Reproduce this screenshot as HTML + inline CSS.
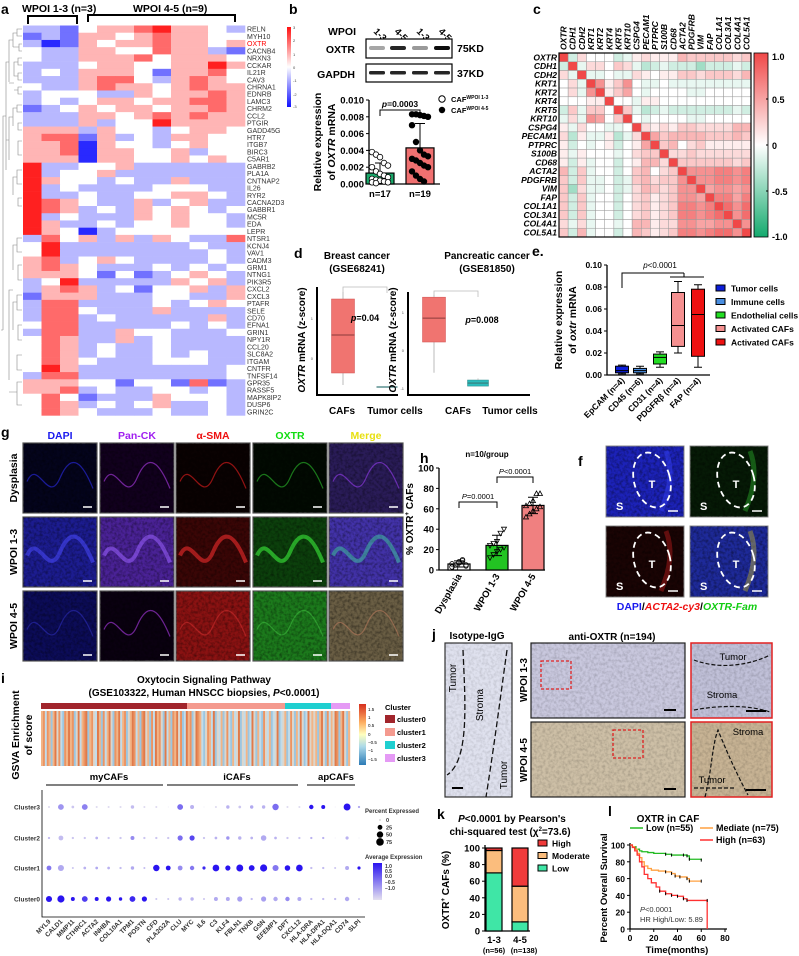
<!DOCTYPE html>
<html><head><meta charset="utf-8">
<style>
html,body{margin:0;padding:0;background:#fff;}
svg{display:block;font-family:"Liberation Sans",Arial,sans-serif;}
.b{font-weight:bold;}
.pl{font-weight:bold;font-size:14px;}
</style></head>
<body>
<svg id="fig" width="799" height="956" viewBox="0 0 799 956" xmlns="http://www.w3.org/2000/svg">
<defs>
<linearGradient id="gradA" x1="0" y1="0" x2="0" y2="1"><stop offset="0" stop-color="#ff1010"/><stop offset="0.5" stop-color="#ffffff"/><stop offset="1" stop-color="#1010ff"/></linearGradient>
<linearGradient id="gradC" x1="0" y1="0" x2="0" y2="1"><stop offset="0" stop-color="#f04848"/><stop offset="0.5" stop-color="#ffffff"/><stop offset="1" stop-color="#14aa6e"/></linearGradient>
<linearGradient id="gradI" x1="0" y1="0" x2="0" y2="1"><stop offset="0" stop-color="#d7301f"/><stop offset="0.3" stop-color="#fdae61"/><stop offset="0.5" stop-color="#ffffbf"/><stop offset="0.7" stop-color="#abd9e9"/><stop offset="1" stop-color="#2c7bb6"/></linearGradient>
<linearGradient id="gradAE" x1="0" y1="0" x2="0" y2="1"><stop offset="0" stop-color="#2a14f0"/><stop offset="1" stop-color="#e4e0f0"/></linearGradient>
<filter id="noise" x="0" y="0" width="100%" height="100%">
<feTurbulence type="fractalNoise" baseFrequency="0.35" numOctaves="2" seed="3"/>
<feColorMatrix type="matrix" values="0 0 0 0 0  0 0 0 0 0  0 0 0 0 0  0 0 0 1.6 -0.6"/>
</filter>
<filter id="noiseL" x="0" y="0" width="100%" height="100%">
<feTurbulence type="fractalNoise" baseFrequency="0.25" numOctaves="2" seed="7"/>
<feColorMatrix type="matrix" values="0 0 0 0 1  0 0 0 0 1  0 0 0 0 1  0 0 0 1.8 -0.9"/>
</filter>
</defs>

<!-- Panel a -->
<text class="pl" x="1" y="14">a</text>
<text class="b" x="22" y="12" font-size="10.5">WPOI 1-3 (n=3)</text>
<text class="b" x="133" y="12" font-size="10.5">WPOI 4-5 (n=9)</text>
<path d="M28,24 V16 H77 V24" fill="none" stroke="#000" stroke-width="2"/>
<path d="M88,22 V15 H235 V22" fill="none" stroke="#000" stroke-width="2"/>
<g id="heatA"></g>
<g id="dendro" stroke="#888" stroke-width="0.6" fill="none">
<path d="M22,29 H17 V36 H22 M17,33 H13 V47 M22,44 H19 V51 H22 M19,47 H13 M13,40 H9 V82 M22,58 H18 V65 H22 M18,62 H14 V76 H18 M22,73 H18 V80 H22 M22,87 H18 V94 H22 M18,90 H14 M14,83 H9 M9,62 H6 V170 M22,105 H17 V112 H22 M17,108 H13 V126 M22,123 H18 V130 H22 M13,117 H9 V160 M22,141 H18 V155 H22 M22,170 H17 V184 H22 M17,177 H13 V195 M22,198 H18 V206 H22 M9,140 H6 M6,116 H3 V330 M22,238 H17 V252 H22 M17,245 H13 V270 M22,265 H18 V280 H22 M22,295 H17 V310 H22 M17,302 H13 V330 M22,325 H18 V340 H22 M13,290 H9 V380 M22,355 H17 V370 H22 M22,382 H17 V405 H22 M17,392 H9 M3,330 H1 V330"/>
</g>
<g id="geneA"></g>
<rect x="287" y="27" width="4" height="80" fill="url(#gradA)"/>
<g font-size="4" fill="#444">
<text x="293" y="29">3</text><text x="293" y="42">2</text><text x="293" y="56">1</text><text x="293" y="69">0</text><text x="293" y="82">-1</text><text x="293" y="96">-2</text><text x="293" y="108">-3</text></g>

<!-- Panel b -->
<text class="pl" x="289" y="14">b</text>
<text class="b" x="328" y="35" font-size="10.5">WPOI</text>
<g class="b" font-size="9.5">
<text transform="translate(373,32) rotate(45)" text-anchor="start">1-3</text>
<text transform="translate(394,32) rotate(45)">4-5</text>
<text transform="translate(416,32) rotate(45)">1-3</text>
<text transform="translate(438,32) rotate(45)">4-5</text></g>
<text class="b" x="355" y="53" font-size="10.5" text-anchor="end">OXTR</text>
<text class="b" x="355" y="78" font-size="10.5" text-anchor="end">GAPDH</text>
<rect x="366" y="39" width="86" height="19" fill="#fff" stroke="#000" stroke-width="1.2"/>
<rect x="366" y="64" width="86" height="18" fill="#fff" stroke="#000" stroke-width="1.2"/>
<g id="bands"></g>
<text class="b" x="457" y="52" font-size="10.5">75KD</text>
<text class="b" x="457" y="77" font-size="10.5">37KD</text>
<g id="chartB"></g>
<text class="b" transform="translate(321,142) rotate(-90)" font-size="10.5" text-anchor="middle">Relative expression</text>
<text class="b" transform="translate(335,142) rotate(-90)" font-size="10.5" text-anchor="middle">of <tspan font-style="italic">OXTR</tspan> mRNA</text>
<circle cx="442" cy="99" r="3.2" fill="#fff" stroke="#000"/>
<text x="451" y="102" font-size="7.5" class="b">CAF<tspan font-size="5" dy="-3">WPOI 1-3</tspan></text>
<circle cx="442" cy="110" r="3.2" fill="#000"/>
<text x="451" y="113" font-size="7.5" class="b">CAF<tspan font-size="5" dy="-3">WPOI 4-5</tspan></text>

<!-- Panel c -->
<text class="pl" x="533" y="14">c</text>
<g id="heatC"></g>
<rect x="754" y="53" width="14" height="184" fill="url(#gradC)" stroke="#000" stroke-width="0.8"/>
<g class="b" font-size="9">
<text x="772" y="60">1.0</text><text x="772" y="103">0.5</text><text x="772" y="149">0</text><text x="772" y="195">-0.5</text><text x="772" y="240">-1.0</text>
<path d="M768,99 h-2 M768,145 h-2 M768,191 h-2" stroke="#000"/></g>

<!-- Panel d -->
<text class="pl" x="294" y="258">d</text>
<text class="b" x="357" y="259" font-size="10" text-anchor="middle">Breast cancer</text>
<text class="b" x="357" y="272" font-size="10" text-anchor="middle">(GSE68241)</text>
<text class="b" x="487" y="259" font-size="10" text-anchor="middle">Pancreatic cancer</text>
<text class="b" x="487" y="272" font-size="10" text-anchor="middle">(GSE81850)</text>
<g id="chartD"></g>
<text class="b" transform="translate(305,340) rotate(-90)" font-size="10" text-anchor="middle"><tspan font-style="italic">OXTR</tspan> mRNA (z-score)</text>
<text class="b" transform="translate(396,340) rotate(-90)" font-size="10" text-anchor="middle"><tspan font-style="italic">OXTR</tspan> mRNA (z-score)</text>
<text x="365" y="321" font-size="9" class="b" text-anchor="middle"><tspan font-style="italic">p</tspan>=0.04</text>
<text x="482" y="323" font-size="9" class="b" text-anchor="middle"><tspan font-style="italic">p</tspan>=0.008</text>
<g class="b" font-size="10">
<text x="342" y="414" text-anchor="middle">CAFs</text><text x="395" y="414" text-anchor="middle">Tumor cells</text>
<text x="458" y="414" text-anchor="middle">CAFs</text><text x="510" y="414" text-anchor="middle">Tumor cells</text></g>

<!-- Panel e -->
<text class="pl" x="532" y="256">e.</text>
<g id="chartE"></g>
<text class="b" transform="translate(562,320) rotate(-90)" font-size="10.5" text-anchor="middle">Relative expression</text>
<text class="b" transform="translate(576,320) rotate(-90)" font-size="10.5" text-anchor="middle">of <tspan font-style="italic">oxtr</tspan> mRNA</text>
<text x="660" y="268" font-size="8" text-anchor="middle"><tspan font-style="italic">p</tspan>&lt;0.0001</text>
<path d="M622,288 V273 H684 M670,277 H704 M684,273 V277" fill="none" stroke="#000" stroke-width="1"/>
<g id="legE"></g>

<!-- Panel g -->
<text class="pl" x="1" y="437">g</text>
<g class="b" font-size="10.5" text-anchor="middle">
<text x="60" y="439" fill="#1a1aee">DAPI</text><text x="137" y="439" fill="#a020f0">Pan-CK</text>
<text x="213" y="439" fill="#ee1111">α-SMA</text><text x="290" y="439" fill="#11dd11">OXTR</text><text x="366" y="439" fill="#e8e010">Merge</text></g>
<g class="b" font-size="10.5" text-anchor="middle">
<text transform="translate(17,478) rotate(-90)">Dysplasia</text>
<text transform="translate(17,552) rotate(-90)">WPOI 1-3</text>
<text transform="translate(17,626) rotate(-90)">WPOI 4-5</text></g>
<g id="imgG"></g>

<!-- Panel h -->
<text class="pl" x="420" y="463">h</text>
<text x="487" y="457" font-size="8" class="b" text-anchor="middle">n=10/group</text>
<g id="chartH"></g>
<text class="b" transform="translate(413,519) rotate(-90)" font-size="10" text-anchor="middle">% OXTR<tspan font-size="6" dy="-4">+</tspan><tspan dy="4"> CAFs</tspan></text>

<!-- Panel f -->
<text class="pl" x="578" y="466">f</text>
<g id="imgF"></g>
<text class="b" x="687" y="610" font-size="10.5" text-anchor="middle"><tspan fill="#1a1aee">DAPI</tspan>/<tspan fill="#ee1111" font-style="italic">ACTA2-cy3</tspan>/<tspan fill="#11cc11" font-style="italic">OXTR-Fam</tspan></text>

<!-- Panel i -->
<text class="pl" x="1" y="683">i</text>
<text class="b" x="204" y="683" font-size="10" text-anchor="middle">Oxytocin Signaling Pathway</text>
<text class="b" x="204" y="696" font-size="10" text-anchor="middle">(GSE103322, Human HNSCC biopsies, <tspan font-style="italic">P</tspan>&lt;0.0001)</text>
<text class="b" transform="translate(19,735) rotate(-90)" font-size="10.5" text-anchor="middle">GSVA Enrichment</text>
<text class="b" transform="translate(32,735) rotate(-90)" font-size="10.5" text-anchor="middle">of score</text>
<g id="gsva"></g>
<rect x="359" y="704" width="7" height="61" fill="url(#gradI)"/>
<g font-size="4.5">
<text x="368" y="711">1.5</text><text x="368" y="719">1</text><text x="368" y="727">0.5</text><text x="368" y="736">0</text><text x="368" y="744">−0.5</text><text x="368" y="752">−1</text><text x="368" y="761">−1.5</text></g>
<text class="b" x="385" y="710" font-size="7.5">Cluster</text>
<g id="legI"></g>
<g class="b" font-size="9.5" text-anchor="middle">
<text x="109" y="780">myCAFs</text><text x="237" y="780">iCAFs</text><text x="336" y="780">apCAFs</text></g>
<path d="M46,785 H163 M167,785 H298 M307,785 H355" stroke="#000" stroke-width="1"/>
<g id="dots"></g>
<text x="365" y="813" font-size="6" class="b" fill="#333">Percent Expressed</text>
<g id="legSize"></g>
<text x="365" y="859" font-size="6" class="b" fill="#333">Average Expression</text>
<rect x="373" y="863" width="9" height="37" fill="url(#gradAE)"/>
<g font-size="5" class="b" fill="#333">
<text x="385" y="868">1.0</text><text x="385" y="873">0.5</text><text x="385" y="878">0.0</text><text x="385" y="884">−0.5</text><text x="385" y="890">−1.0</text></g>

<!-- Panel j -->
<text class="pl" x="432" y="639">j</text>
<text class="b" x="477" y="639" font-size="10" text-anchor="middle">Isotype-IgG</text>
<text class="b" x="612" y="640" font-size="10" text-anchor="middle">anti-OXTR (n=194)</text>
<g id="imgJ"></g>
<g class="b" font-size="10" text-anchor="middle">
<text transform="translate(527,680) rotate(-90)">WPOI 1-3</text>
<text transform="translate(527,760) rotate(-90)">WPOI 4-5</text></g>

<!-- Panel k -->
<text class="pl" x="437" y="819">k</text>
<text class="b" x="512" y="822" font-size="10" text-anchor="middle"><tspan font-style="italic">P</tspan>&lt;0.0001 by Pearson's</text>
<text class="b" x="510" y="835" font-size="10" text-anchor="middle">chi-squared test (χ<tspan font-size="6" dy="-4">2</tspan><tspan dy="4">=73.6)</tspan></text>
<g id="chartK"></g>
<text class="b" transform="translate(449,890) rotate(-90)" font-size="10" text-anchor="middle">OXTR<tspan font-size="6" dy="-4">+</tspan><tspan dy="4"> CAFs (%)</tspan></text>
<g id="legK"></g>

<!-- Panel l -->
<text class="pl" x="608" y="816">l</text>
<text class="b" x="668" y="822" font-size="10" text-anchor="middle">OXTR in CAF</text>
<g id="chartL"></g>
<text class="b" transform="translate(607,888) rotate(-90)" font-size="9.5" text-anchor="middle">Percent Overall Survival</text>
<text class="b" x="677" y="953" font-size="9.5" text-anchor="middle">Time(months)</text>
<text x="640" y="912" font-size="7.5" fill="#333"><tspan font-style="italic">P</tspan>&lt;0.0001</text>
<text x="640" y="922" font-size="7.5" fill="#333">HR High/Low: 5.89</text>
<g id="legL"></g>
</svg>

<script>
// ===== Data: panel a heatmap (digits 0..6, 3 = 0 z-score) =====
const geneA = ["RELN","MYH10","OXTR","CACNB4","NRXN3","CCKAR","IL21R","CAV3","CHRNA1","EDNRB","LAMC3","CHRM2","CCL2","PTGIR","GADD45G","HTR7","ITGB7","BIRC3","C5AR1","GABRB2","PLA1A","CNTNAP2","IL26","RYR2","CACNA2D3","GABBR1","MC5R","EDA","LEPR","NTSR1","KCNJ4","VAV1","CADM3","GRM1","NTNG1","PIK3R5","CXCL2","CXCL3","PTAFR","SELE","CD70","EFNA1","GRIN1","NPY1R","CCL20","SLC8A2","ITGAM","CNTFR","TNFSF14","GPR35","RASSF5","MAPK8IP2","DUSP6","GRIN2C"];
const heatA = ["221344564432","121443454433","201434454434","322443354421","322444534443","222344334464","232444314453","222455324543","322454434544","233322434454","232344344554","123434434454","222443454544","222423364444","444243323443","455142324433","445043323433","445044334233","444044334343","622334222222","623342222222","643323224222","623222233322","622322334432","654322423422","654232434323","623222434332","642232334332","643023333333","253424243225","362222222322","362222222232","452343222232","454322232323","444313123432","236222224342","245423133424","144422233224","255222232343","255322242222","255232222242","355222223232","255224332223","354224232222","354232232222","354232232322","354322233322","364222222223","255222222223","444331331512","445232233232","353122243332","354232342232","354322232232"];
// ===== Data: panel b =====
const bandOXTR = [0.35, 0.85, 0.4, 0.95];
const bandGAPDH = [0.85, 0.85, 0.85, 0.85];
const bTicks = [0, 0.002, 0.004, 0.006, 0.008, 0.010];
const bTickLabels = ["0.000","0.002","0.004","0.006","0.008","0.010"];
const bGroupLabels = ["n=17","n=19"];
const bMeans = [0.0013, 0.0043];
const bSD = [0.0012, 0.0029];
const bDots13 = [0.0038,0.0035,0.0032,0.0025,0.0022,0.0020,0.0015,0.0012,0.0010,0.0008,0.0006,0.0005,0.0004,0.0003,0.0002,0.0002,0.0001];
const bDots45 = [0.0083,0.0083,0.0082,0.0081,0.0080,0.0070,0.0050,0.0040,0.0035,0.0033,0.0030,0.0028,0.0025,0.0022,0.0020,0.0015,0.0010,0.0006,0.0003];
// ===== Data: panel c (lower triangle correlations) =====
const geneC = ["OXTR","CDH1","CDH2","KRT1","KRT2","KRT4","KRT5","KRT10","CSPG4","PECAM1","PTPRC","S100B","CD68","ACTA2","PDGFRB","VIM","FAP","COL1A1","COL3A1","COL4A1","COL5A1"];
const corrLower = [[],[-0.2],[0.2,-0.1],[0.0,0.2,-0.1],[0.0,0.2,-0.1,0.6],[0.0,0.0,0.0,0.1,0.1],[-0.2,0.3,-0.1,0.3,0.3,0.0],[-0.1,0.2,-0.1,0.6,0.5,0.0,0.3],[0.1,-0.1,0.2,0.0,0.0,-0.1,-0.1,0.0],[0.2,-0.3,0.1,-0.1,-0.1,0.1,-0.3,-0.1,0.2],[0.1,-0.2,0.0,-0.1,0.0,0.1,-0.2,0.0,0.1,0.5],[0.1,-0.1,0.1,0.0,0.0,0.0,-0.1,0.0,0.2,0.3,0.3],[0.1,-0.2,0.1,-0.1,0.0,0.0,-0.2,0.0,0.1,0.4,0.4,0.2],[0.4,-0.2,0.3,-0.1,0.0,0.0,-0.2,0.0,0.3,0.4,0.0,0.2,0.3],[0.3,-0.2,0.3,-0.1,-0.1,0.0,-0.2,-0.1,0.3,0.4,0.2,0.3,0.3,0.6],[0.3,-0.4,0.2,-0.1,-0.1,0.0,-0.2,-0.1,0.2,0.4,0.3,0.2,0.3,0.6,0.6],[0.3,-0.2,0.3,-0.1,0.0,0.0,-0.2,0.0,0.2,0.3,0.1,0.2,0.3,0.6,0.6,0.5],[0.3,-0.2,0.3,-0.1,0.0,0.0,-0.2,0.0,0.2,0.3,0.1,0.2,0.3,0.7,0.7,0.6,0.7],[0.3,-0.2,0.3,-0.1,0.0,0.0,-0.2,0.0,0.2,0.3,0.1,0.2,0.3,0.7,0.7,0.6,0.7,0.8],[0.2,-0.1,0.2,-0.1,0.0,0.0,-0.1,0.0,0.4,0.4,0.1,0.2,0.2,0.6,0.6,0.5,0.5,0.6,0.6],[0.3,-0.2,0.4,-0.1,0.0,0.0,-0.2,0.0,0.4,0.3,0.1,0.2,0.3,0.7,0.7,0.6,0.7,0.8,0.8,0.6]];
// ===== Data: panel d (z-score boxes) =====
const dLeftBox = [-0.675, -0.375, 0.575, 1.475, 1.65];   // min,q1,med,q3,max
const dLeftTumor = [-0.725, -0.725, -0.725, -0.725, -0.725];
const dRightBox = [-0.6, 0.21, 0.84, 1.39, 1.45];
const dRightTumor = [-0.95, -0.95, -0.87, -0.79, -0.75];
// ===== Data: panel e =====
const eCats = ["EpCAM (n=4)","CD45 (n=6)","CD31 (n=4)","PDGFRβ (n=4)","FAP (n=4)"];
const eMin = [0.001, 0.001, 0.007, 0.020, 0.007];
const eQ1 = [0.002, 0.002, 0.010, 0.026, 0.017];
const eMed = [0.004, 0.004, 0.016, 0.045, 0.055];
const eQ3 = [0.008, 0.006, 0.019, 0.075, 0.078];
const eMax = [0.009, 0.008, 0.021, 0.085, 0.082];
const eTicks = [0, 0.02, 0.04, 0.06, 0.08, 0.10];
const eTickLabels = ["0.00","0.02","0.04","0.06","0.08","0.10"];
const eLegend = ["Tumor cells","Immune cells","Endothelial cells","Activated CAFs","Activated CAFs"];
// ===== Data: panel h =====
const hCats = ["Dysplasia","WPOI 1-3","WPOI 4-5"];
const hDys = [3,5,8,10,4,6,2,7,9,5];
const h13 = [12,15,18,20,22,24,26,28,36,40];
const h45 = [52,55,58,60,62,63,65,68,75,75];
const hSD = [3, 10, 8];
const hTicks = [0,20,40,60,80,100];
// ===== Data: panel i =====
const gsvaStripes = "3414303524104353402513450342153041352043513402354130452304153420513043524015340254310243150213024103125021301520310421301250123014203152015232303520413254035203";
const clusterNames = ["cluster0","cluster1","cluster2","cluster3"];
const clusterFrac = [146, 98, 46, 19];
const dotGenes = ["MYL9","CALD1","MMP11","CTHRC1","ACTA2","INHBA","COL10A1","TPM1","POSTN","CFD","PLA2G2A","CLU","MYC","IL6","C3","KLF4","FBLN1","TNXB","GSN","EFEMP1","DPT","CXCL12","HLA-DRA","HLA-DPA1","HLA-DQA1","CD74","SLPI"];
const dotClusters = ["Cluster3","Cluster2","Cluster1","Cluster0"];
const pct3 = [2,40,5,40,2,2,2,10,2,2,0,40,15,0,2,10,5,10,10,50,2,2,20,15,0,60,3];
const pct2 = [3,25,3,3,5,3,3,15,3,3,3,30,30,3,5,10,10,5,35,5,3,3,3,3,0,8,0];
const pct1 = [25,45,2,5,5,5,3,10,2,50,25,25,20,8,55,30,60,40,65,45,35,55,3,3,2,15,8];
const pct0 = [45,65,15,40,15,30,10,40,30,2,2,10,10,2,15,15,30,3,30,20,20,15,3,3,3,20,2];
const avg3 = [-1,-0.3,-0.8,-0.1,-1,-1,-1,-0.7,-1,-1,-1,0.1,-0.6,-1,-1,-0.6,-0.8,-0.5,-0.6,0.1,-1,-1,1.0,1.0,-1,1.0,-0.5];
const avg2 = [-0.7,-0.7,-0.8,-0.8,-0.6,-0.8,-0.8,-0.2,-0.8,-0.8,-0.8,0.1,0.5,-0.8,-0.6,-0.3,-0.6,-0.6,-0.5,-0.6,-0.8,-0.8,-0.6,-0.6,-1,-0.6,-1];
const avg1 = [0,-0.5,-0.8,-0.6,-0.5,-0.6,-0.7,-0.5,-0.7,1.0,1.0,-0.2,0,0.8,1.0,1.0,1.0,1.0,1.0,0,1.0,1.0,-0.7,-0.7,-0.8,-0.5,1.0];
const avg0 = [1.0,1.0,1.0,0.6,1.0,1.0,1.0,0.8,1.0,-0.8,-0.8,-0.6,-0.6,-0.8,-0.5,-0.5,-0.4,-0.7,-0.4,-0.5,-0.2,-0.5,-0.7,-0.7,-0.7,-0.5,-0.8];
const sizeLegend = [0,25,50,75];
// ===== Data: panel k =====
const kCats = ["1-3","4-5"];
const kN = ["(n=56)","(n=138)"];
const kLow = [70, 11];
const kModerate = [27, 43];
const kHigh = [3, 46];
const kTicks = [0,20,40,60,80,100];
// ===== Data: panel l =====
const lTimeLow = [0,2,5,8,10,15,20,30,35,45,48,50,60];
const lSurvLow = [100,98,95,93,92,91,90,89,88,88,87,83,82];
const lTimeMed = [0,2,4,6,8,10,12,15,18,24,30,35,38,42,48,50,60];
const lSurvMed = [100,98,95,90,85,80,75,72,70,69,68,66,63,62,60,57,57];
const lTimeHigh = [0,2,4,6,8,10,12,15,18,22,25,30,35,40,45,48,65,65];
const lSurvHigh = [100,97,93,88,80,74,65,60,55,50,45,42,40,39,36,34,34,0];
const lTicksX = [0,20,40,60,80];
const lTicksY = [0,20,40,60,80,100];

// ===== helpers =====
const NS = "http://www.w3.org/2000/svg";
function mk(tag, attrs, parent){const e=document.createElementNS(NS,tag);for(const k in attrs)e.setAttribute(k,attrs[k]);parent.appendChild(e);return e;}
function G(id){return document.getElementById(id);}
function mixHex(c1,c2,t){const r=Math.round(c1[0]+(c2[0]-c1[0])*t),g=Math.round(c1[1]+(c2[1]-c1[1])*t),b=Math.round(c1[2]+(c2[2]-c1[2])*t);return `rgb(${r},${g},${b})`;}

// ===== Panel a =====
(function(){
  const g=G('heatA'), gl=G('geneA');
  const x0=23, cw=(245-23)/12, y0=25.5, rh=7.22;
  heatA.forEach((row,i)=>{
    for(let j=0;j<12;j++){
      const v=(parseInt(row[j])-3)/3;
      const col = v>=0 ? mixHex([255,255,255],[255,20,20],v*0.95) : mixHex([255,255,255],[30,30,255],-v*0.95);
      const r=mk('rect',{x:x0+j*cw,y:y0+i*rh,width:cw+0.3,height:rh+0.3,fill:col},g);
      
      
    }
    const t=mk('text',{x:247,y:y0+i*rh+rh-1,'font-size':7,fill:geneA[i]==='OXTR'?'#ff0000':'#333'},gl);
    t.textContent=geneA[i];
    
    
  });
})();

// ===== Panel b =====
(function(){
  const gb=G('bands');
  const lanes=[377,398,420,442];
  lanes.forEach((x,i)=>{
    const a=mk('rect',{x:x-8,y:46,width:16,height:4,rx:2,fill:'#000','fill-opacity':bandOXTR[i]},gb);
    
    
    const b=mk('rect',{x:x-8,y:71,width:16,height:3.5,rx:1.5,fill:'#000','fill-opacity':bandGAPDH[i]},gb);
    
    
  });
  const g=G('chartB');
  const y=v=>184-v/0.010*84;
  const xs=[380,420];
  const ax=mk('path',{d:'M369,100 V184 H440',fill:'none',stroke:'#000','stroke-width':1.3},g);
  
  
  bTicks.forEach((t,i)=>{
    const tk=mk('line',{x1:366,x2:369,y1:y(t),y2:y(t),stroke:'#000'},g);
    
    
    const tl=mk('text',{x:364,y:y(t)+3.5,'font-size':9.5,'font-weight':'bold','text-anchor':'end'},g);
    tl.textContent=bTickLabels[i];
    
    
  });
  const fills=['#1aa86a','#f07070'];
  bMeans.forEach((m,i)=>{
    const r=mk('rect',{x:xs[i]-14,y:y(m),width:28,height:184-y(m),fill:fills[i],stroke:'#000','stroke-width':1.2},g);
    
    
    const e=mk('path',{d:`M${xs[i]},${y(m)} V${y(m+bSD[i])} M${xs[i]-5},${y(m+bSD[i])} H${xs[i]+5}`,stroke:'#000','stroke-width':1},g);
    
    
    const n=mk('text',{x:xs[i],y:197,'font-size':9.5,'font-weight':'bold','text-anchor':'middle'},g);
    n.textContent=bGroupLabels[i];
    
    
  });
  [bDots13,bDots45].forEach((arr,gi)=>{
    arr.forEach((v,i)=>{
      const c=mk('circle',{cx:xs[gi]+((i%5)-2)*4,cy:y(v),r:2.8,fill:gi?'#000':'#fff',stroke:'#000','stroke-width':0.8},g);
      
      
    });
  });
  const br=mk('path',{d:'M380,116 V110 H420 V116',fill:'none',stroke:'#000','stroke-width':1},g);
  
  
  const p=mk('text',{x:400,y:107,'font-size':8.5,'font-weight':'bold','text-anchor':'middle'},g);
  p.innerHTML='<tspan font-style="italic">p</tspan>=0.0003';
  
  
})();

// ===== Panel c =====
(function(){
  const g=G('heatC');
  const x0=559,y0=53,n=geneC.length,cw=(751-559)/n,ch=(237-53)/n;
  const val=(i,j)=> i===j?1:(i>j?corrLower[i][j]:corrLower[j][i]);
  for(let i=0;i<n;i++){for(let j=0;j<n;j++){
    const v=val(i,j);
    const col=v>=0?mixHex([255,255,255],[240,72,72],v):mixHex([255,255,255],[20,170,110],-v);
    const r=mk('rect',{x:x0+j*cw,y:y0+i*ch,width:cw,height:ch,fill:col,stroke:'#999','stroke-width':0.5},g);
    
    
  }}
  const fr=mk('rect',{x:x0,y:y0,width:n*cw,height:n*ch,fill:'none',stroke:'#000','stroke-width':1.2},g);
  
  
  geneC.forEach((name,i)=>{
    const t=mk('text',{x:557,y:y0+i*ch+ch-1.5,'font-size':8.5,'font-weight':'bold','font-style':'italic','text-anchor':'end'},g);
    t.textContent=name;
    
    
    const c=mk('text',{transform:`translate(${x0+i*cw+cw/2+3},50) rotate(-90)`,'font-size':8.5,'font-weight':'bold','font-style':'italic'},g);
    c.textContent=name;
    
    
  });
})();

// ===== Panel d =====
(function(){
  const g=G('chartD');
  function plot(axX,axRight,yf,ticks,box,tumor,tumorIsBox,tumorColor,side){
    const a=mk('path',{d:`M${axX},${side==='l'?287:292} V395 H${axRight}`,fill:'none',stroke:'#000','stroke-width':2},g);
    
    
    ticks.forEach(t=>{
      const tl=mk('text',{x:axX-4,y:yf(t)+2,'font-size':4,'text-anchor':'end',fill:'#555'},g);
      tl.textContent=String(t);
      
      
    });
    const cx=axX+26, tx=axX+70;
    const w=mk('line',{x1:cx,x2:cx,y1:yf(box[4]),y2:yf(box[0]),stroke:'#bbb','stroke-width':1},g);
    
    
    const b=mk('rect',{x:cx-11.5,y:yf(box[3]),width:23,height:yf(box[1])-yf(box[3]),fill:'#f07470',stroke:'#d05050','stroke-width':0.5},g);
    
    
    const m=mk('line',{x1:cx-11.5,x2:cx+11.5,y1:yf(box[2]),y2:yf(box[2]),stroke:'#8a3a3a','stroke-width':1},g);
    
    
    if(tumorIsBox){
      const tb=mk('rect',{x:tx-10.5,y:yf(tumor[3]),width:21,height:yf(tumor[1])-yf(tumor[3]),fill:tumorColor,stroke:'#2a8a8a','stroke-width':0.5},g);
      
      
      const tw=mk('line',{x1:tx,x2:tx,y1:yf(tumor[4]),y2:yf(tumor[3]),stroke:'#bbb'},g);
      
      
    }
    const tm=mk('line',{x1:tx-10.5,x2:tx+10.5,y1:yf(tumor[2]),y2:yf(tumor[2]),stroke:'#3a7a7a','stroke-width':1.2},g);
    
    
    const br=mk('path',{d:`M${cx},${side==='l'?293:297} V${side==='l'?287:291} H${tx} V${side==='l'?293:297}`,fill:'none',stroke:'#bbb','stroke-width':0.8},g);
    
    
  }
  plot(317,398,z=>358-40*z,[1,0],dLeftBox,dLeftTumor,false,'#2aaaaa','l');
  plot(408,530,z=>350-38*z,[1,0,-1],dRightBox,dRightTumor,true,'#2bbcbc','r');
})();

// ===== Panel e =====
(function(){
  const g=G('chartE');
  const y=v=>375-v/0.10*110;
  const xs=[622,640,660,678,698];
  const cols=['#0c1ed8','#4a8ee0','#22dd22','#f59090','#ee1111'];
  const a=mk('path',{d:'M607,265 V375 H710',fill:'none',stroke:'#000','stroke-width':1.3},g);
  
  
  eTicks.forEach((t,i)=>{
    const tk=mk('line',{x1:604,x2:607,y1:y(t),y2:y(t),stroke:'#000'},g);
    
    
    const tl=mk('text',{x:602,y:y(t)+3,'font-size':8.5,'font-weight':'bold','text-anchor':'end'},g);
    tl.textContent=eTickLabels[i];
    
    
  });
  eCats.forEach((c,i)=>{
    const x=xs[i];
    const w=mk('path',{d:`M${x},${y(eMax[i])} V${y(eMin[i])} M${x-4},${y(eMax[i])} H${x+4} M${x-4},${y(eMin[i])} H${x+4}`,stroke:'#000','stroke-width':1},g);
    
    
    const b=mk('rect',{x:x-6.5,y:y(eQ3[i]),width:13,height:Math.max(1,y(eQ1[i])-y(eQ3[i])),fill:cols[i],stroke:'#000','stroke-width':1},g);
    
    
    const m=mk('line',{x1:x-6.5,x2:x+6.5,y1:y(eMed[i]),y2:y(eMed[i]),stroke:'#000','stroke-width':1},g);
    
    
    const t=mk('text',{transform:`translate(${x+3},381) rotate(-45)`,'font-size':8.5,'font-weight':'bold','text-anchor':'end'},g);
    t.textContent=c;
    
    
  });
  const lg=G('legE');
  eLegend.forEach((l,i)=>{
    const yy=285+i*13.5;
    const r=mk('rect',{x:716,y:yy,width:9,height:6,fill:cols[i],stroke:'#000','stroke-width':1},lg);
    
    
    const t=mk('text',{x:731,y:yy+6.5,'font-size':8.5,'font-weight':'bold'},lg);
    t.textContent=l;
    
    
  });
})();

// ===== Panel g images =====
(function(){
  const g=G('imgG');
  const xs=[23,100,176,253,329], ys=[443,517,591], w=74, h=70;
  const base=[["#04041c","#12001e","#0a0202","#020a02","#2a1c58"],["#1c1c90","#4a2296","#3a0606","#0c400c","#4232a8"],["#0c0c58","#0a0010","#8a1212","#1c7a1c","#6a5e44"]];
  const feat=[["#3030ff","#c040ff","#ff2020","#30d030","#a040ff"],["#4a4aff","#9a60ff","#ff3030","#40ff40","#40c0a0"],["#3030c0","#c040ff","#d03030","#40c040","#c08060"]];
  ys.forEach((yy,r)=>xs.forEach((xx,c)=>{
    const im=mk('rect',{x:xx,y:yy,width:w,height:h,fill:base[r][c],stroke:'#555','stroke-width':1.2},g);
    
    
    const tx=mk('rect',{x:xx,y:yy,width:w,height:h,filter:'url(#noise)',opacity:0.5},g);
    
    
    const f=mk('path',{d:`M${xx+4},${yy+h*0.55} C${xx+15},${yy+h*0.2} ${xx+25},${yy+h*0.9} ${xx+37},${yy+h*0.5} S${xx+60},${yy+h*0.3} ${xx+70},${yy+h*0.65}`,fill:'none',stroke:feat[r][c],'stroke-width':r===1?4:1.2,'stroke-opacity':0.55},g);
    
    
    const sb=mk('line',{x1:xx+w-14,x2:xx+w-5,y1:yy+h-6,y2:yy+h-6,stroke:'#fff','stroke-width':1.5},g);
    
    
  }));
})();

// ===== Panel h =====
(function(){
  const g=G('chartH');
  const y=v=>570-v/100*102;
  const xs=[459,497,533], cols=['#ffffff','#22c422','#f08080'];
  const groups=[hDys,h13,h45];
  const a=mk('path',{d:'M439,468 V570 H545',fill:'none',stroke:'#000','stroke-width':1.3},g);
  
  
  hTicks.forEach(t=>{
    const tk=mk('line',{x1:436,x2:439,y1:y(t),y2:y(t),stroke:'#000'},g);
    
    
    const tl=mk('text',{x:434,y:y(t)+3.5,'font-size':9.5,'font-weight':'bold','text-anchor':'end'},g);
    tl.textContent=String(t);
    
    
  });
  groups.forEach((arr,i)=>{
    const m=arr.reduce((s,v)=>s+v,0)/arr.length;
    const b=mk('rect',{x:xs[i]-11,y:y(m),width:22,height:570-y(m),fill:cols[i],stroke:'#000','stroke-width':1.2},g);
    
    
    const e=mk('path',{d:`M${xs[i]},${y(m-hSD[i])} V${y(m+hSD[i])} M${xs[i]-5},${y(m+hSD[i])} H${xs[i]+5} M${xs[i]-5},${y(m-hSD[i])} H${xs[i]+5}`,stroke:'#000','stroke-width':1},g);
    
    
    arr.forEach((v,k)=>{
      const px=xs[i]+((k%5)-2)*3.5, py=y(v);
      const mkr = i===0 ? mk('circle',{cx:px,cy:py,r:2.3,fill:'none',stroke:'#000','stroke-width':0.8},g)
        : mk('path',{d: i===1?`M${px-2.5},${py-2} H${px+2.5} L${px},${py+2.5} Z`:`M${px-2.5},${py+2} H${px+2.5} L${px},${py-2.5} Z`,fill:'none',stroke:'#000','stroke-width':0.8},g);
      
      
    });
    const t=mk('text',{transform:`translate(${xs[i]+3},576) rotate(-60)`,'font-size':9.5,'font-weight':'bold','text-anchor':'end'},g);
    t.textContent=hCats[i];
    
    
  });
  const br=mk('path',{d:'M459,508 V502 H497 V508 M497,483 V477 H533 V483',fill:'none',stroke:'#000','stroke-width':1},g);
  
  
  const p1=mk('text',{x:478,y:499,'font-size':7.5,'text-anchor':'middle'},g);
  p1.innerHTML='<tspan font-style="italic">P</tspan>=0.0001';
  
  
  const p2=mk('text',{x:515,y:474,'font-size':7.5,'text-anchor':'middle'},g);
  p2.innerHTML='<tspan font-style="italic">P</tspan>&lt;0.0001';
  
  
})();

// ===== Panel f images =====
(function(){
  const g=G('imgF');
  const pos=[[606,446],[690,446],[606,526],[690,526]];
  const fills=['#1c22b8','#061a06','#1a0404','#1e2a9a'];
  const tint=['#3a46ff','#30c030','#d02020','#d0c030'];
  pos.forEach((p,i)=>{
    const r=mk('rect',{x:p[0],y:p[1],width:78,height:71,fill:fills[i],stroke:'#888','stroke-width':1},g);
    
    
    const tx=mk('rect',{x:p[0],y:p[1],width:78,height:71,filter:'url(#noise)',opacity:0.5},g);
    
    
    const tt=mk('path',{d:`M${p[0]+60},${p[1]+5} q10,25 -5,60`,stroke:tint[i],'stroke-width':5,'stroke-opacity':0.4,fill:'none'},g);
    
    
    const el=mk('ellipse',{cx:p[0]+46,cy:p[1]+34,rx:18,ry:28,fill:'none',stroke:'#fff','stroke-width':1.8,'stroke-dasharray':'6,4',transform:`rotate(-15 ${p[0]+46} ${p[1]+34})`},g);
    
    
    const T=mk('text',{x:p[0]+46,y:p[1]+42,'font-size':11,'font-weight':'bold',fill:'#fff','text-anchor':'middle'},g);
    T.textContent='T';
    
    
    const S=mk('text',{x:p[0]+10,y:p[1]+64,'font-size':11,'font-weight':'bold',fill:'#fff'},g);
    S.textContent='S';
    
    
    const sb=mk('line',{x1:p[0]+62,x2:p[0]+72,y1:p[1]+65,y2:p[1]+65,stroke:'#fff','stroke-width':1.5},g);
    
    
  });
})();

// ===== Panel i =====
(function(){
  const g=G('gsva');
  const cc=['#a1252c','#f49a8f','#1fcfd0','#e59af5'];
  let x=41; const tot=clusterFrac.reduce((a,b)=>a+b,0);
  clusterFrac.forEach((f,i)=>{
    const w=f/tot*309;
    const r=mk('rect',{x:x,y:703,width:w,height:6,fill:cc[i]},g);
    
    
    x+=w;
  });
  const sc=['#9cc6e0','#c2dcea','#dcd6cc','#f2b486','#ec9462','#e07a4a'];
  const sw=309/gsvaStripes.length;
  for(let i=0;i<gsvaStripes.length;i++){
    const r=mk('rect',{x:41+i*sw,y:711,width:sw+0.2,height:55,fill:sc[parseInt(gsvaStripes[i])]},g);
    
    
  }
  const lg=G('legI');
  clusterNames.forEach((n,i)=>{
    const r=mk('rect',{x:385,y:715+i*13,width:10,height:8,fill:cc[i]},lg);
    
    
    const t=mk('text',{x:397,y:722+i*13,'font-size':7.5,'font-weight':'bold'},lg);
    t.textContent=n;
    
    
  });
  const d=G('dots');
  const ax=mk('path',{d:'M42,790 V917 H365',fill:'none',stroke:'#000','stroke-width':0.8},d);
  
  
  const xg=i=>49+i*(310/26);
  const rows=[807,838,868,899];
  const pcts=[pct3,pct2,pct1,pct0], avgs=[avg3,avg2,avg1,avg0];
  const rad=p=>p<=0?0.4:0.5+Math.sqrt(p/75)*3.3;
  const colr=a=>mixHex([222,218,240],[42,20,240],(a+1)/2);
  dotClusters.forEach((c,ri)=>{
    const t=mk('text',{x:40,y:rows[ri]+2.5,'font-size':6.5,'font-weight':'bold','text-anchor':'end',fill:'#333'},d);
    t.textContent=c;
    
    
    dotGenes.forEach((gn,gi)=>{
      const ci=mk('circle',{cx:xg(gi),cy:rows[ri],r:rad(pcts[ri][gi]),fill:colr(avgs[ri][gi])},d);
      
      
    });
  });
  dotGenes.forEach((gn,gi)=>{
    const t=mk('text',{transform:`translate(${xg(gi)+2},922) rotate(-45)`,'font-size':6.5,'font-weight':'bold','text-anchor':'end',fill:'#333'},d);
    t.textContent=gn;
    
    
  });
  const ls=G('legSize');
  sizeLegend.forEach((p,i)=>{
    const cy=820+i*7.3;
    const c=mk('circle',{cx:380,cy:cy,r:rad(p),fill:'#000'},ls);
    
    
    const t=mk('text',{x:386,y:cy+2,'font-size':5.5,'font-weight':'bold',fill:'#333'},ls);
    t.textContent=String(p);
    
    
  });
})();

// ===== Panel j images =====
(function(){
  const g=G('imgJ');
  const iso=mk('rect',{x:445,y:643,width:67,height:154,fill:'#dfe1ee',stroke:'#333','stroke-width':1.2},g);
  
  
  const isoT=mk('rect',{x:445,y:643,width:67,height:154,filter:'url(#noise)',opacity:0.15},g);
  
  
  const dl=mk('path',{d:'M463,650 C465,700 470,760 447,775 M507,650 C500,700 495,740 486,797',fill:'none',stroke:'#111','stroke-width':1.3,'stroke-dasharray':'6,3'},g);
  
  
  const t1=mk('text',{transform:'translate(456,678) rotate(-90)','font-size':10,'text-anchor':'middle'},g);
  t1.textContent='Tumor';
  
  
  const t2=mk('text',{transform:'translate(483,705) rotate(-90)','font-size':10,'text-anchor':'middle'},g);
  t2.textContent='Stroma';
  
  
  const t3=mk('text',{transform:'translate(507,775) rotate(-90)','font-size':10,'text-anchor':'middle'},g);
  t3.textContent='Tumor';
  
  
  const sb=mk('line',{x1:452,x2:463,y1:788,y2:788,stroke:'#000','stroke-width':2},g);
  
  
  const ims=[[531,643,'#c9c8de'],[531,722,'#cdbfa6']];
  ims.forEach((m,i)=>{
    const r=mk('rect',{x:m[0],y:m[1],width:154,height:75,fill:m[2],stroke:'#222','stroke-width':1.2},g);
    
    
    const tx=mk('rect',{x:m[0],y:m[1],width:154,height:75,filter:'url(#noise)',opacity:0.2},g);
    
    
    const box=mk('rect',{x:i?613:541,y:i?730:661,width:30,height:28,fill:'none',stroke:'#e02020','stroke-width':1.3,'stroke-dasharray':'3,2'},g);
    
    
    const s=mk('line',{x1:664,x2:676,y1:m[1]+67,y2:m[1]+67,stroke:'#000','stroke-width':2},g);
    
    
    const inset=mk('rect',{x:691,y:m[1],width:81,height:75,fill:i?'#c7b394':'#c0c0d8',stroke:'#e02020','stroke-width':1.5},g);
    
    
    const itx=mk('rect',{x:692,y:m[1]+1,width:79,height:73,filter:'url(#noise)',opacity:0.2},g);
    
    
    const s2=mk('line',{x1:746,x2:766,y1:m[1]+68,y2:m[1]+68,stroke:'#000','stroke-width':2},g);
    
    
  });
  const d1=mk('path',{d:'M694,660 C720,670 750,665 770,655 M694,710 C720,705 750,705 770,712 M705,797 C712,770 712,745 718,730 C730,760 740,780 748,795 M694,788 H735',fill:'none',stroke:'#111','stroke-width':1.2,'stroke-dasharray':'4,2'},g);
  
  
  const lbl=[['Tumor',733,660],['Stroma',722,698],['Stroma',748,735],['Tumor',712,783]];
  lbl.forEach(l=>{
    const t=mk('text',{x:l[1],y:l[2],'font-size':9.5,'text-anchor':'middle'},g);
    t.textContent=l[0];
    
    
  });
})();

// ===== Panel k =====
(function(){
  const g=G('chartK');
  const y=v=>931-v/100*83;
  const xs=[494,520];
  const a=mk('path',{d:'M485,845 V931 H530',fill:'none',stroke:'#000','stroke-width':1.3},g);
  
  
  kTicks.forEach(t=>{
    const tk=mk('line',{x1:482,x2:485,y1:y(t),y2:y(t),stroke:'#000'},g);
    
    
    const tl=mk('text',{x:480,y:y(t)+3.5,'font-size':9.5,'font-weight':'bold','text-anchor':'end'},g);
    tl.textContent=String(t);
    
    
  });
  const cols=['#3fe6a6','#fbbd7d','#f03a3a'];
  kCats.forEach((c,i)=>{
    const segs=[kLow[i],kModerate[i],kHigh[i]];
    let base=0;
    segs.forEach((s,k)=>{
      const r=mk('rect',{x:xs[i]-8,y:y(base+s),width:16,height:y(base)-y(base+s),fill:cols[k],stroke:'#000','stroke-width':1.2},g);
      
      
      base+=s;
    });
    const t=mk('text',{x:xs[i],y:943,'font-size':9.5,'font-weight':'bold','text-anchor':'middle'},g);
    t.textContent=c;
    
    
    const n=mk('text',{x:xs[i]+(i?4:0),y:953,'font-size':7.5,'font-weight':'bold','text-anchor':'middle'},g);
    n.textContent=kN[i];
    
    
  });
  const lg=G('legK');
  ['High','Moderate','Low'].forEach((l,i)=>{
    const r=mk('rect',{x:538,y:840+i*12.5,width:9,height:6,fill:[cols[2],cols[1],cols[0]][i],stroke:'#000','stroke-width':1},lg);
    
    
    const t=mk('text',{x:552,y:846.5+i*12.5,'font-size':8.5,'font-weight':'bold'},lg);
    t.textContent=l;
    
    
  });
})();

// ===== Panel l =====
(function(){
  const g=G('chartL');
  const x=t=>630+t/80*95, y=v=>929-v/100*84;
  const a=mk('path',{d:'M630,843 V929 H727',fill:'none',stroke:'#000','stroke-width':1.3},g);
  
  
  lTicksY.forEach(t=>{
    const tk=mk('line',{x1:627,x2:630,y1:y(t),y2:y(t),stroke:'#000'},g);
    
    
    const tl=mk('text',{x:625,y:y(t)+3.5,'font-size':8.5,'font-weight':'bold','text-anchor':'end'},g);
    tl.textContent=String(t);
    
    
  });
  lTicksX.forEach(t=>{
    const tk=mk('line',{x1:x(t),x2:x(t),y1:929,y2:932,stroke:'#000'},g);
    
    
    const tl=mk('text',{x:x(t),y:941,'font-size':8.5,'font-weight':'bold','text-anchor':'middle'},g);
    tl.textContent=String(t);
    
    
  });
  function step(ts,ss){let d=`M${x(ts[0])},${y(ss[0])}`;for(let i=1;i<ts.length;i++){d+=` H${x(ts[i])} V${y(ss[i])}`;}return d;}
  const series=[[lTimeLow,lSurvLow,'#22bb22','low'],[lTimeMed,lSurvMed,'#ffa040','mediate'],[lTimeHigh,lSurvHigh,'#ff3030','high']];
  series.forEach(s=>{
    const p=mk('path',{d:step(s[0],s[1]),fill:'none',stroke:s[2],'stroke-width':1.3},g);
    
    
    for(let i=Math.floor(s[0].length*0.6);i<s[0].length;i++){
      if(s[1][i]===0)continue;
      const c=mk('line',{x1:x(s[0][i]),x2:x(s[0][i]),y1:y(s[1][i])-1.5,y2:y(s[1][i])+1.5,stroke:'#000','stroke-width':1},g);
      
      
    }
  });
  const lg=G('legL');
  const items=[['Low (n=55)','#22bb22',630,831],['Mediate (n=75)','#ffa040',700,831],['High (n=63)','#ff3030',700,843]];
  items.forEach(it=>{
    const l=mk('line',{x1:it[2],x2:it[2]+13,y1:it[3]-3,y2:it[3]-3,stroke:it[1],'stroke-width':1.5},lg);
    
    
    const t=mk('text',{x:it[2]+16,y:it[3],'font-size':9,'font-weight':'bold'},lg);
    t.textContent=it[0];
    
    
  });
})();
</script>
</body></html>
